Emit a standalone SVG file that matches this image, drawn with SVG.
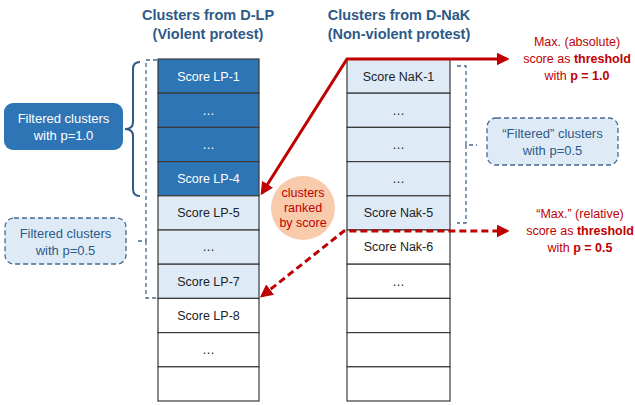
<svg xmlns="http://www.w3.org/2000/svg" width="635" height="405" viewBox="0 0 635 405">
  <style>
    text { font-family: "Liberation Sans", Arial, sans-serif; }
    .title { font-size: 14.5px; font-weight: bold; fill: #2E5A88; text-anchor: middle; }
    .cell { stroke: #3a3a3a; stroke-width: 1.2; }
    .dark { fill: #2E75B6; }
    .light { fill: #DEEBF7; }
    .white { fill: #FFFFFF; }
    .ct { font-size: 12.5px; text-anchor: middle; fill: #222; }
    .ctw { font-size: 12.5px; text-anchor: middle; fill: #FFFFFF; }
    .lbl { font-size: 13px; text-anchor: middle; }
    .red { font-size: 12.5px; text-anchor: middle; fill: #C00000; }
    .brace { fill: none; stroke: #2E5A88; stroke-width: 2; }
    .dbrace { fill: none; stroke: #44698F; stroke-width: 1.3; stroke-dasharray: 4 3; }
    .solidArrow { fill: none; stroke: #C00000; stroke-width: 3; }
    .dashArrow { fill: none; stroke: #C00000; stroke-width: 3; stroke-dasharray: 7 4; }
  </style>
  <defs>
    <marker id="ah" viewBox="0 0 10 10" refX="8" refY="5" markerWidth="13" markerHeight="13" markerUnits="userSpaceOnUse" orient="auto-start-reverse">
      <path d="M0,0 L10,5 L0,10 Z" fill="#C00000"/>
    </marker>
  </defs>

  <!-- column titles -->
  <g id="title-lp">
    <text class="title" x="208" y="20">Clusters from D-LP</text>
    <text class="title" x="208" y="39">(Violent protest)</text>
  </g>
  <g id="title-nak">
    <text class="title" x="399" y="20">Clusters from D-NaK</text>
    <text class="title" x="399" y="39">(Non-violent protest)</text>
  </g>

  <!-- D-LP column -->
  <g id="col-lp">
    <rect class="cell dark" x="158" y="59" width="101" height="34.2"/>
    <rect class="cell dark" x="158" y="93.2" width="101" height="34.2"/>
    <rect class="cell dark" x="158" y="127.4" width="101" height="34.2"/>
    <rect class="cell dark" x="158" y="161.6" width="101" height="34.2"/>
    <rect class="cell light" x="158" y="195.8" width="101" height="34.2"/>
    <rect class="cell light" x="158" y="230" width="101" height="34.2"/>
    <rect class="cell light" x="158" y="264.2" width="101" height="34.2"/>
    <rect class="cell white" x="158" y="298.4" width="101" height="34.2"/>
    <rect class="cell white" x="158" y="332.6" width="101" height="34.2"/>
    <rect class="cell white" x="158" y="366.8" width="101" height="34.2"/>
    <text class="ctw" x="208.5" y="80.5">Score LP-1</text>
    <text class="ctw" x="208.5" y="114.5">…</text>
    <text class="ctw" x="208.5" y="148.5">…</text>
    <text class="ctw" x="208.5" y="183">Score LP-4</text>
    <text class="ct" x="208.5" y="217">Score LP-5</text>
    <text class="ct" x="208.5" y="251">…</text>
    <text class="ct" x="208.5" y="285.5">Score LP-7</text>
    <text class="ct" x="208.5" y="320">Score LP-8</text>
    <text class="ct" x="208.5" y="354">…</text>
  </g>

  <!-- D-NaK column -->
  <g id="col-nak">
    <rect class="cell light" x="347" y="59" width="103" height="34.2"/>
    <rect class="cell light" x="347" y="93.2" width="103" height="34.2"/>
    <rect class="cell light" x="347" y="127.4" width="103" height="34.2"/>
    <rect class="cell light" x="347" y="161.6" width="103" height="34.2"/>
    <rect class="cell light" x="347" y="195.8" width="103" height="34.2"/>
    <rect class="cell white" x="347" y="230" width="103" height="34.2"/>
    <rect class="cell white" x="347" y="264.2" width="103" height="34.2"/>
    <rect class="cell white" x="347" y="298.4" width="103" height="34.2"/>
    <rect class="cell white" x="347" y="332.6" width="103" height="34.2"/>
    <rect class="cell white" x="347" y="366.8" width="103" height="34.2"/>
    <text class="ct" x="398.5" y="80.5">Score NaK-1</text>
    <text class="ct" x="398.5" y="114.5">…</text>
    <text class="ct" x="398.5" y="148.5">…</text>
    <text class="ct" x="398.5" y="183">…</text>
    <text class="ct" x="398.5" y="217">Score Nak-5</text>
    <text class="ct" x="398.5" y="251">Score Nak-6</text>
    <text class="ct" x="398.5" y="285.5">…</text>
  </g>

  <!-- side labels -->
  <g id="label-p10">
    <rect x="4" y="103" width="119" height="47" rx="9" fill="#2E75B6"/>
    <text class="lbl" x="63.5" y="123" fill="#FFFFFF">Filtered clusters</text>
    <text class="lbl" x="63.5" y="140" fill="#FFFFFF">with p=1.0</text>
  </g>
  <g id="label-p05-lp">
    <rect x="5" y="218" width="121" height="46" rx="9" fill="#DEEBF7" stroke="#44698F" stroke-width="1.3" stroke-dasharray="5 3"/>
    <text class="lbl" x="65.5" y="238" fill="#2E5A88">Filtered clusters</text>
    <text class="lbl" x="65.5" y="255" fill="#2E5A88">with p=0.5</text>
  </g>
  <g id="label-p05-nak">
    <rect x="487" y="118" width="131" height="47" rx="9" fill="#DEEBF7" stroke="#44698F" stroke-width="1.3" stroke-dasharray="5 3"/>
    <text class="lbl" x="552.5" y="138" fill="#2E5A88">“Filtered” clusters</text>
    <text class="lbl" x="552.5" y="155" fill="#2E5A88">with p=0.5</text>
  </g>

  <!-- ranking note -->
  <g id="ranked">
    <circle cx="303" cy="208" r="32" fill="#F8CBAD"/>
    <text class="red" x="303" y="197">clusters</text>
    <text class="red" x="303" y="212">ranked</text>
    <text class="red" x="303" y="227">by score</text>
  </g>

  <!-- threshold notes -->
  <g id="note-abs">
    <text class="red" x="577" y="46">Max. (absolute)</text>
    <text class="red" x="577" y="63">score as <tspan font-weight="bold">threshold</tspan></text>
    <text class="red" x="577" y="80">with <tspan font-weight="bold">p = 1.0</tspan></text>
  </g>
  <g id="note-rel">
    <text class="red" x="580" y="218">“Max.” (relative)</text>
    <text class="red" x="580" y="235">score as <tspan font-weight="bold">threshold</tspan></text>
    <text class="red" x="580" y="252">with <tspan font-weight="bold">p = 0.5</tspan></text>
  </g>

  <!-- connectors: braces and threshold arrows -->
  <g id="connectors">
    <path class="brace" d="M140,62 Q133,62 133,69 L133,122 Q133,129 125,129 Q133,129 133,136 L133,189 Q133,196 140,196"/>
    <path class="dbrace" d="M157,60 L146,60 L146,241 L138,241 M146,241 L146,298 L157,298"/>
    <path class="dbrace" d="M457,66 L466,66 L466,145 L477,145 M466,145 L466,223 L457,223"/>
    <path class="solidArrow" d="M262,193 L347,59 L507,59" marker-start="url(#ah)" marker-end="url(#ah)"/>
    <path class="dashArrow" d="M262,296 L344,231 L507,231" marker-start="url(#ah)" marker-end="url(#ah)"/>
  </g>
</svg>
